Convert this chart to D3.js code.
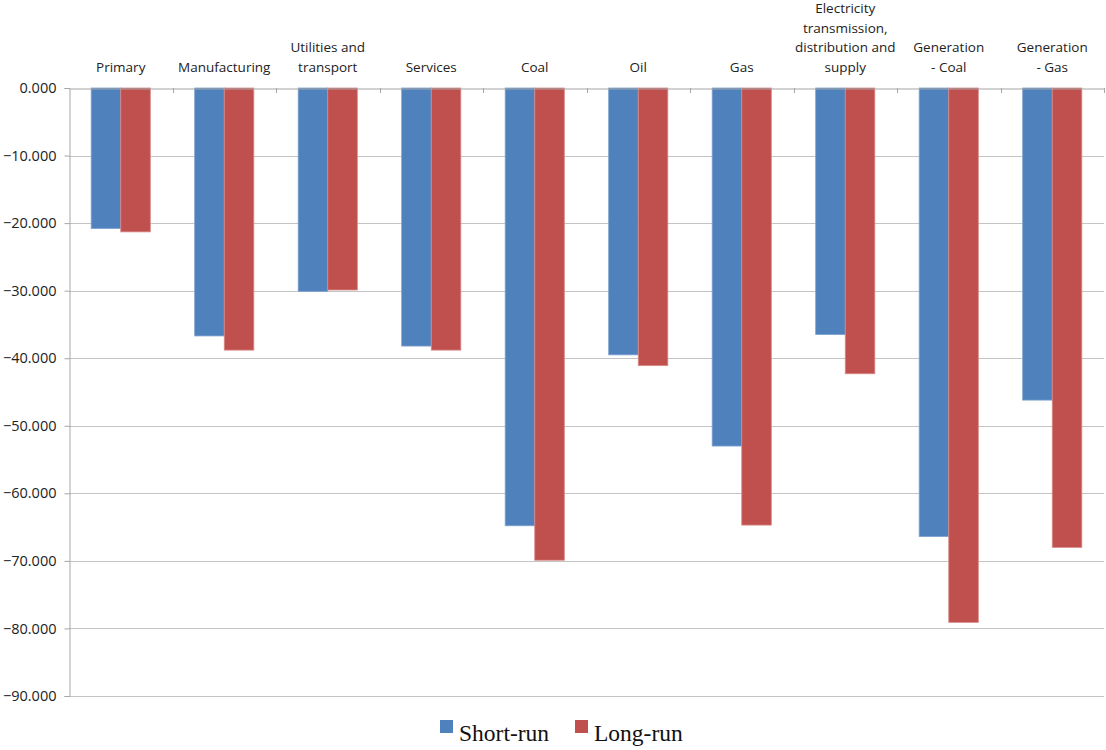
<!DOCTYPE html>
<html>
<head>
<meta charset="utf-8">
<script src="https://cdn.jsdelivr.net/npm/d3@7"></script>
<style>
  html, body { margin: 0; padding: 0; background: #fff; }
  svg { display: block; }
</style>
</head>
<body>
<svg id="chart" width="1106" height="750"></svg>
<script>
// Sector labels (each entry is a list of wrapped lines)
const categories = [
  ["Primary"],
  ["Manufacturing"],
  ["Utilities and", "transport"],
  ["Services"],
  ["Coal"],
  ["Oil"],
  ["Gas"],
  ["Electricity", "transmission,", "distribution and", "supply"],
  ["Generation", "- Coal"],
  ["Generation", "- Gas"]
];
const shortRun = [-20.8, -36.7, -30.1, -38.2, -64.8, -39.5, -53.0, -36.5, -66.4, -46.2];
const longRun  = [-21.3, -38.8, -29.9, -38.8, -69.9, -41.1, -64.7, -42.3, -79.1, -68.0];
const seriesNames = ["Short-run", "Long-run"];
const seriesColors = ["#4F81BD", "#C0504D"];
const seriesEdges = ["#7EA2CF", "#D98A88"];
const yTicks = [0, -10, -20, -30, -40, -50, -60, -70, -80, -90];

const svg = d3.select("#chart");
const plot = { left: 69, right: 1104, top: 88, bottom: 696 };
const axisFont = "'Open Sans', 'Noto Sans', sans-serif";

const y = d3.scaleLinear().domain([0, -90]).range([plot.top, plot.bottom]);
const x = d3.scaleBand().domain(d3.range(categories.length))
  .range([plot.left, plot.right]).paddingInner(0).paddingOuter(0);
// Excel-style 150% gap width: two bars take 2 of 3.5 bar-widths
const barW = x.bandwidth() / 3.5;
const xSub = d3.scaleBand().domain([0, 1])
  .range([barW * 0.75, barW * 2.75]);

// Horizontal gridlines
svg.append("g")
  .selectAll("line")
  .data(yTicks.filter(d => d !== 0))
  .join("line")
  .attr("x1", plot.left).attr("x2", plot.right)
  .attr("y1", d => Math.round(y(d)) + 0.5).attr("y2", d => Math.round(y(d)) + 0.5)
  .attr("stroke", "#C4C4C4").attr("stroke-width", 1.2);

// Bars
const data = categories.map((c, i) => ({ i, vals: [shortRun[i], longRun[i]] }));
const groups = svg.append("g").selectAll("g")
  .data(data).join("g")
  .attr("transform", d => `translate(${x(d.i)},0)`);
groups.selectAll("rect")
  .data(d => d.vals.map((v, s) => ({ v, s })))
  .join("rect")
  .attr("x", d => xSub(d.s))
  .attr("y", y(0))
  .attr("width", xSub.bandwidth())
  .attr("height", d => y(d.v) - y(0))
  .attr("fill", d => seriesColors[d.s])
  .attr("stroke", d => seriesEdges[d.s])
  .attr("stroke-width", 0.8);

// Y axis
const yAxis = d3.axisLeft(y)
  .tickValues(yTicks)
  .tickFormat(d3.format(".3f"))
  .tickSize(5)
  .tickPadding(8);
const yg = svg.append("g")
  .attr("transform", `translate(${plot.left + 0.5},0)`)
  .call(yAxis);
yg.select(".domain").attr("stroke", "#A6A6A6");
yg.selectAll(".tick line").attr("stroke", "#A6A6A6");
yg.selectAll(".tick text")
  .attr("font-family", axisFont)
  .attr("font-size", 14.5)
  .attr("fill", "#222");

// Category axis along the zero line
const xAxis = d3.axisBottom(x).tickSize(0).tickFormat("");
const xg = svg.append("g")
  .attr("transform", `translate(0,${y(0) + 0.5})`)
  .call(xAxis);
xg.select(".domain").attr("stroke", "#A6A6A6").attr("stroke-width", 1.2);
xg.selectAll(".tick").remove();
// Boundary tick marks between categories
svg.append("g").selectAll("line")
  .data(d3.range(1, categories.length + 1))
  .join("line")
  .attr("x1", i => Math.round(plot.left + i * x.step()) + 0.5)
  .attr("x2", i => Math.round(plot.left + i * x.step()) + 0.5)
  .attr("y1", y(0)).attr("y2", y(0) + 5)
  .attr("stroke", "#A6A6A6");

// Category labels, bottom line sits just above the zero line
const lineH = 19.5;
svg.append("g").selectAll("text")
  .data(categories.map((c, i) => ({ c, i })))
  .join("text")
  .attr("font-family", axisFont)
  .attr("font-size", 13.5)
  .attr("fill", "#222")
  .attr("text-anchor", "middle")
  .each(function(d) {
    const t = d3.select(this);
    const n = d.c.length;
    d.c.forEach((line, k) => {
      t.append("tspan")
        .attr("x", x(d.i) + x.bandwidth() / 2)
        .attr("y", 71.5 - (n - 1 - k) * lineH)
        .text(line);
    });
  });

// Legend
const legend = svg.append("g").attr("font-family", "'Liberation Serif', 'Times New Roman', serif");
const legendItems = [{ x: 440 }, { x: 575 }];
legendItems.forEach((it, s) => {
  legend.append("rect")
    .attr("x", it.x).attr("y", 720)
    .attr("width", 13).attr("height", 13)
    .attr("fill", seriesColors[s]);
  legend.append("text")
    .attr("x", it.x + 19).attr("y", 741)
    .attr("font-size", 23.5)
    .attr("fill", "#111")
    .text(seriesNames[s]);
});
</script>
</body>
</html>
